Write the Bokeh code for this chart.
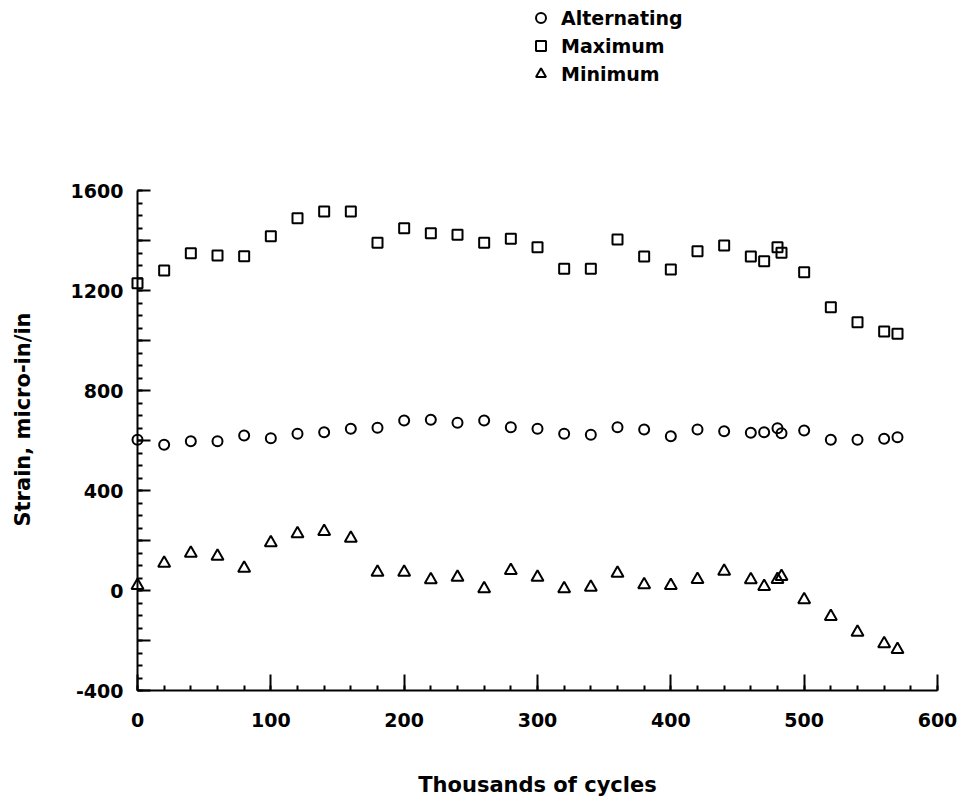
import math
from bokeh.plotting import figure
from bokeh.models import FixedTicker, Range1d, Legend, LegendItem
from bokeh.core.properties import value
from bokeh.embed import file_html
from bokeh.resources import INLINE

# ---- data (thousands of cycles, strain in micro-in/in) ----
cycles = [0, 20, 40, 60, 80, 100, 120, 140, 160, 180, 200, 220, 240, 260, 280, 300,
          320, 340, 360, 380, 400, 420, 440, 460, 470, 480, 483, 500, 520, 540, 560, 570]
alternating = [603, 583, 597, 597, 620, 609, 627, 633, 647, 651, 680, 683, 671, 680, 653, 647,
               627, 623, 653, 644, 617, 644, 637, 631, 633, 649, 629, 640, 603, 603, 607, 613]
maximum = [1229, 1280, 1349, 1340, 1337, 1417, 1489, 1516, 1516, 1391, 1449, 1429, 1423, 1391, 1407, 1373,
           1287, 1287, 1404, 1336, 1284, 1357, 1380, 1336, 1317, 1373, 1351, 1273, 1133, 1073, 1036, 1027]
minimum = [20, 109, 149, 137, 89, 191, 227, 236, 209, 73, 73, 43, 53, 7, 80, 53,
           7, 13, 69, 23, 20, 44, 77, 43, 16, 44, 56, -37, -104, -167, -213, -236]

series_names = ["Alternating", "Maximum", "Minimum"]
series_markers = ["circle", "square", "triangle"]
series_sizes = [10, 10, 12]

x_ticks = [0, 100, 200, 300, 400, 500, 600]
x_tick_labels = ["0", "100", "200", "300", "400", "500", "600"]
x_minor_ticks = list(range(0, 601, 20))
y_ticks = [-400, -200, 0, 200, 400, 600, 800, 1000, 1200, 1400, 1600]
y_tick_labels = ["-400", "", "0", "", "400", "", "800", "", "1200", "", "1600"]
y_minor_ticks = list(range(-400, 1601, 50))

x_title = "Thousands of cycles"
y_title = "Strain, micro-in/in"

FONT = "DejaVu Sans"

# axis spans 0..600 and -400..1600; the frame extends above 1600 to hold the key
X0, X1, Y0, Y1 = 0, 600, -400, 1600
BL, BR, BB = 137, 23, 110
W, H = 960, 800
FW, FH = W - BL - BR, H - BB
PX_PER_Y = 500 / (Y1 - Y0)          # 500 px for the -400..1600 axis
Y_TOP = Y0 + FH / PX_PER_Y           # frame reaches the top edge

p = figure(width=W, height=H, output_backend="svg", toolbar_location=None,
           x_range=Range1d(X0, X1), y_range=Range1d(Y0, Y_TOP),
           min_border_left=BL, min_border_right=BR, min_border_top=0, min_border_bottom=BB,
           x_axis_label=x_title)
p.outline_line_color = None
p.grid.visible = False
p.background_fill_color = "white"
p.border_fill_color = "white"

p.xaxis.ticker = FixedTicker(ticks=x_ticks, minor_ticks=x_minor_ticks)
p.yaxis.ticker = FixedTicker(ticks=y_ticks, minor_ticks=y_minor_ticks)
p.xaxis.major_label_overrides = {t: l for t, l in zip(x_ticks, x_tick_labels)}
p.yaxis.major_label_overrides = {t: l for t, l in zip(y_ticks, y_tick_labels)}
p.yaxis.bounds = (Y0, Y1)

for ax in p.axis:
    ax.axis_line_color = "black"
    ax.axis_line_width = 2
    ax.major_tick_line_color = "black"
    ax.major_tick_line_width = 2
    ax.minor_tick_line_color = "black"
    ax.minor_tick_line_width = 2
    ax.major_tick_out = 0
    ax.minor_tick_out = 0
    ax.major_label_text_font = FONT
    ax.major_label_text_font_style = "bold"
    ax.major_label_text_font_size = "19px"
    ax.major_label_text_color = "black"
    ax.axis_label_text_font = FONT
    ax.axis_label_text_font_style = "bold"
    ax.axis_label_text_font_size = "21px"
    ax.axis_label_text_color = "black"

p.xaxis.major_tick_in = 16
p.xaxis.minor_tick_in = 5
p.yaxis.major_tick_in = 13
p.yaxis.minor_tick_in = 5
p.xaxis.major_label_standoff = 22
p.yaxis.major_label_standoff = 14
p.xaxis.axis_label_standoff = 43

common = dict(fill_color=None, line_color="black", line_width=2, level="overlay")
renderers = []
for vals, mk, sz in zip([alternating, maximum, minimum], series_markers, series_sizes):
    renderers.append(p.scatter(cycles, vals, marker=mk, size=sz, **common))

legend = Legend(items=[LegendItem(label=n, renderers=[r]) for n, r in zip(series_names, renderers)],
                location=(391, 604), orientation="vertical",
                glyph_width=25, glyph_height=25, label_height=25, spacing=3,
                padding=0, margin=0, label_standoff=8,
                label_text_font=FONT, label_text_font_style="bold",
                label_text_font_size="19px", label_text_color="black",
                background_fill_alpha=0, border_line_color=None)
p.add_layout(legend, "center")

# y-axis title, centred on the -400..1600 axis span (screen position -> data space)
def px_to_x(px):
    return X0 + (px - BL) * (X1 - X0) / FW

def py_to_y(py):
    return Y0 + (FH - py) / PX_PER_Y

p.text(x=[px_to_x(22)], y=[py_to_y(419)], text=[y_title], angle=math.pi / 2,
       text_align="center", text_baseline="middle",
       text_font=value(FONT), text_font_style="bold", text_font_size="21px",
       text_color="black", level="overlay")

open("out.html", "w").write(file_html(p, INLINE))
